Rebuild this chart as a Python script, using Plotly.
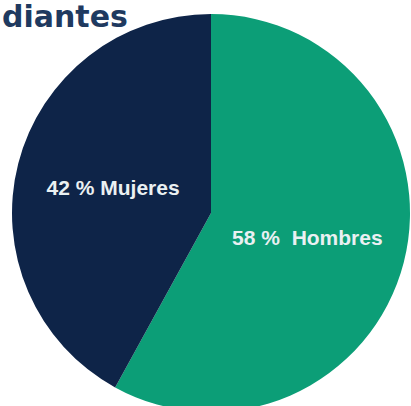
import plotly.graph_objects as go

categories = ["Hombres", "Mujeres"]
values = [58, 42]
slice_labels = ["58 %  Hombres", "42 % Mujeres"]
colors = ["#0c9e77", "#0e2448"]
title_text = "diantes"

W, H = 411, 412
cx, cy, r = 211, 213, 199

fig = go.Figure(go.Pie(
    labels=categories,
    values=values,
    text=slice_labels,
    textinfo="text",
    textposition="inside",
    insidetextorientation="horizontal",
    textfont=dict(family="Liberation Sans", size=21, color="#eaf0f2", weight="bold"),
    marker=dict(colors=colors, line=dict(width=0)),
    direction="clockwise",
    sort=False,
    rotation=0,
    hoverinfo="label+percent",
    domain=dict(x=[(cx - r) / W, (cx + r) / W], y=[(H - cy - r) / H, (H - cy + r) / H]),
    showlegend=False,
))

fig.add_annotation(
    text=title_text,
    xref="paper", yref="paper",
    x=0, y=1 + 3 / H,
    xanchor="left", yanchor="top",
    showarrow=False,
    font=dict(family="DejaVu Sans", size=30, color="#1f3a60", weight="bold"),
)

fig.update_layout(
    width=W, height=H,
    margin=dict(l=0, r=0, t=0, b=0),
    paper_bgcolor="white",
    plot_bgcolor="white",
)

fig.write_html(
    "out.html",
    config={"displayModeBar": False},
    post_script="document.body.style.margin='0';document.body.style.overflow='hidden';document.documentElement.style.overflow='hidden';",
)
